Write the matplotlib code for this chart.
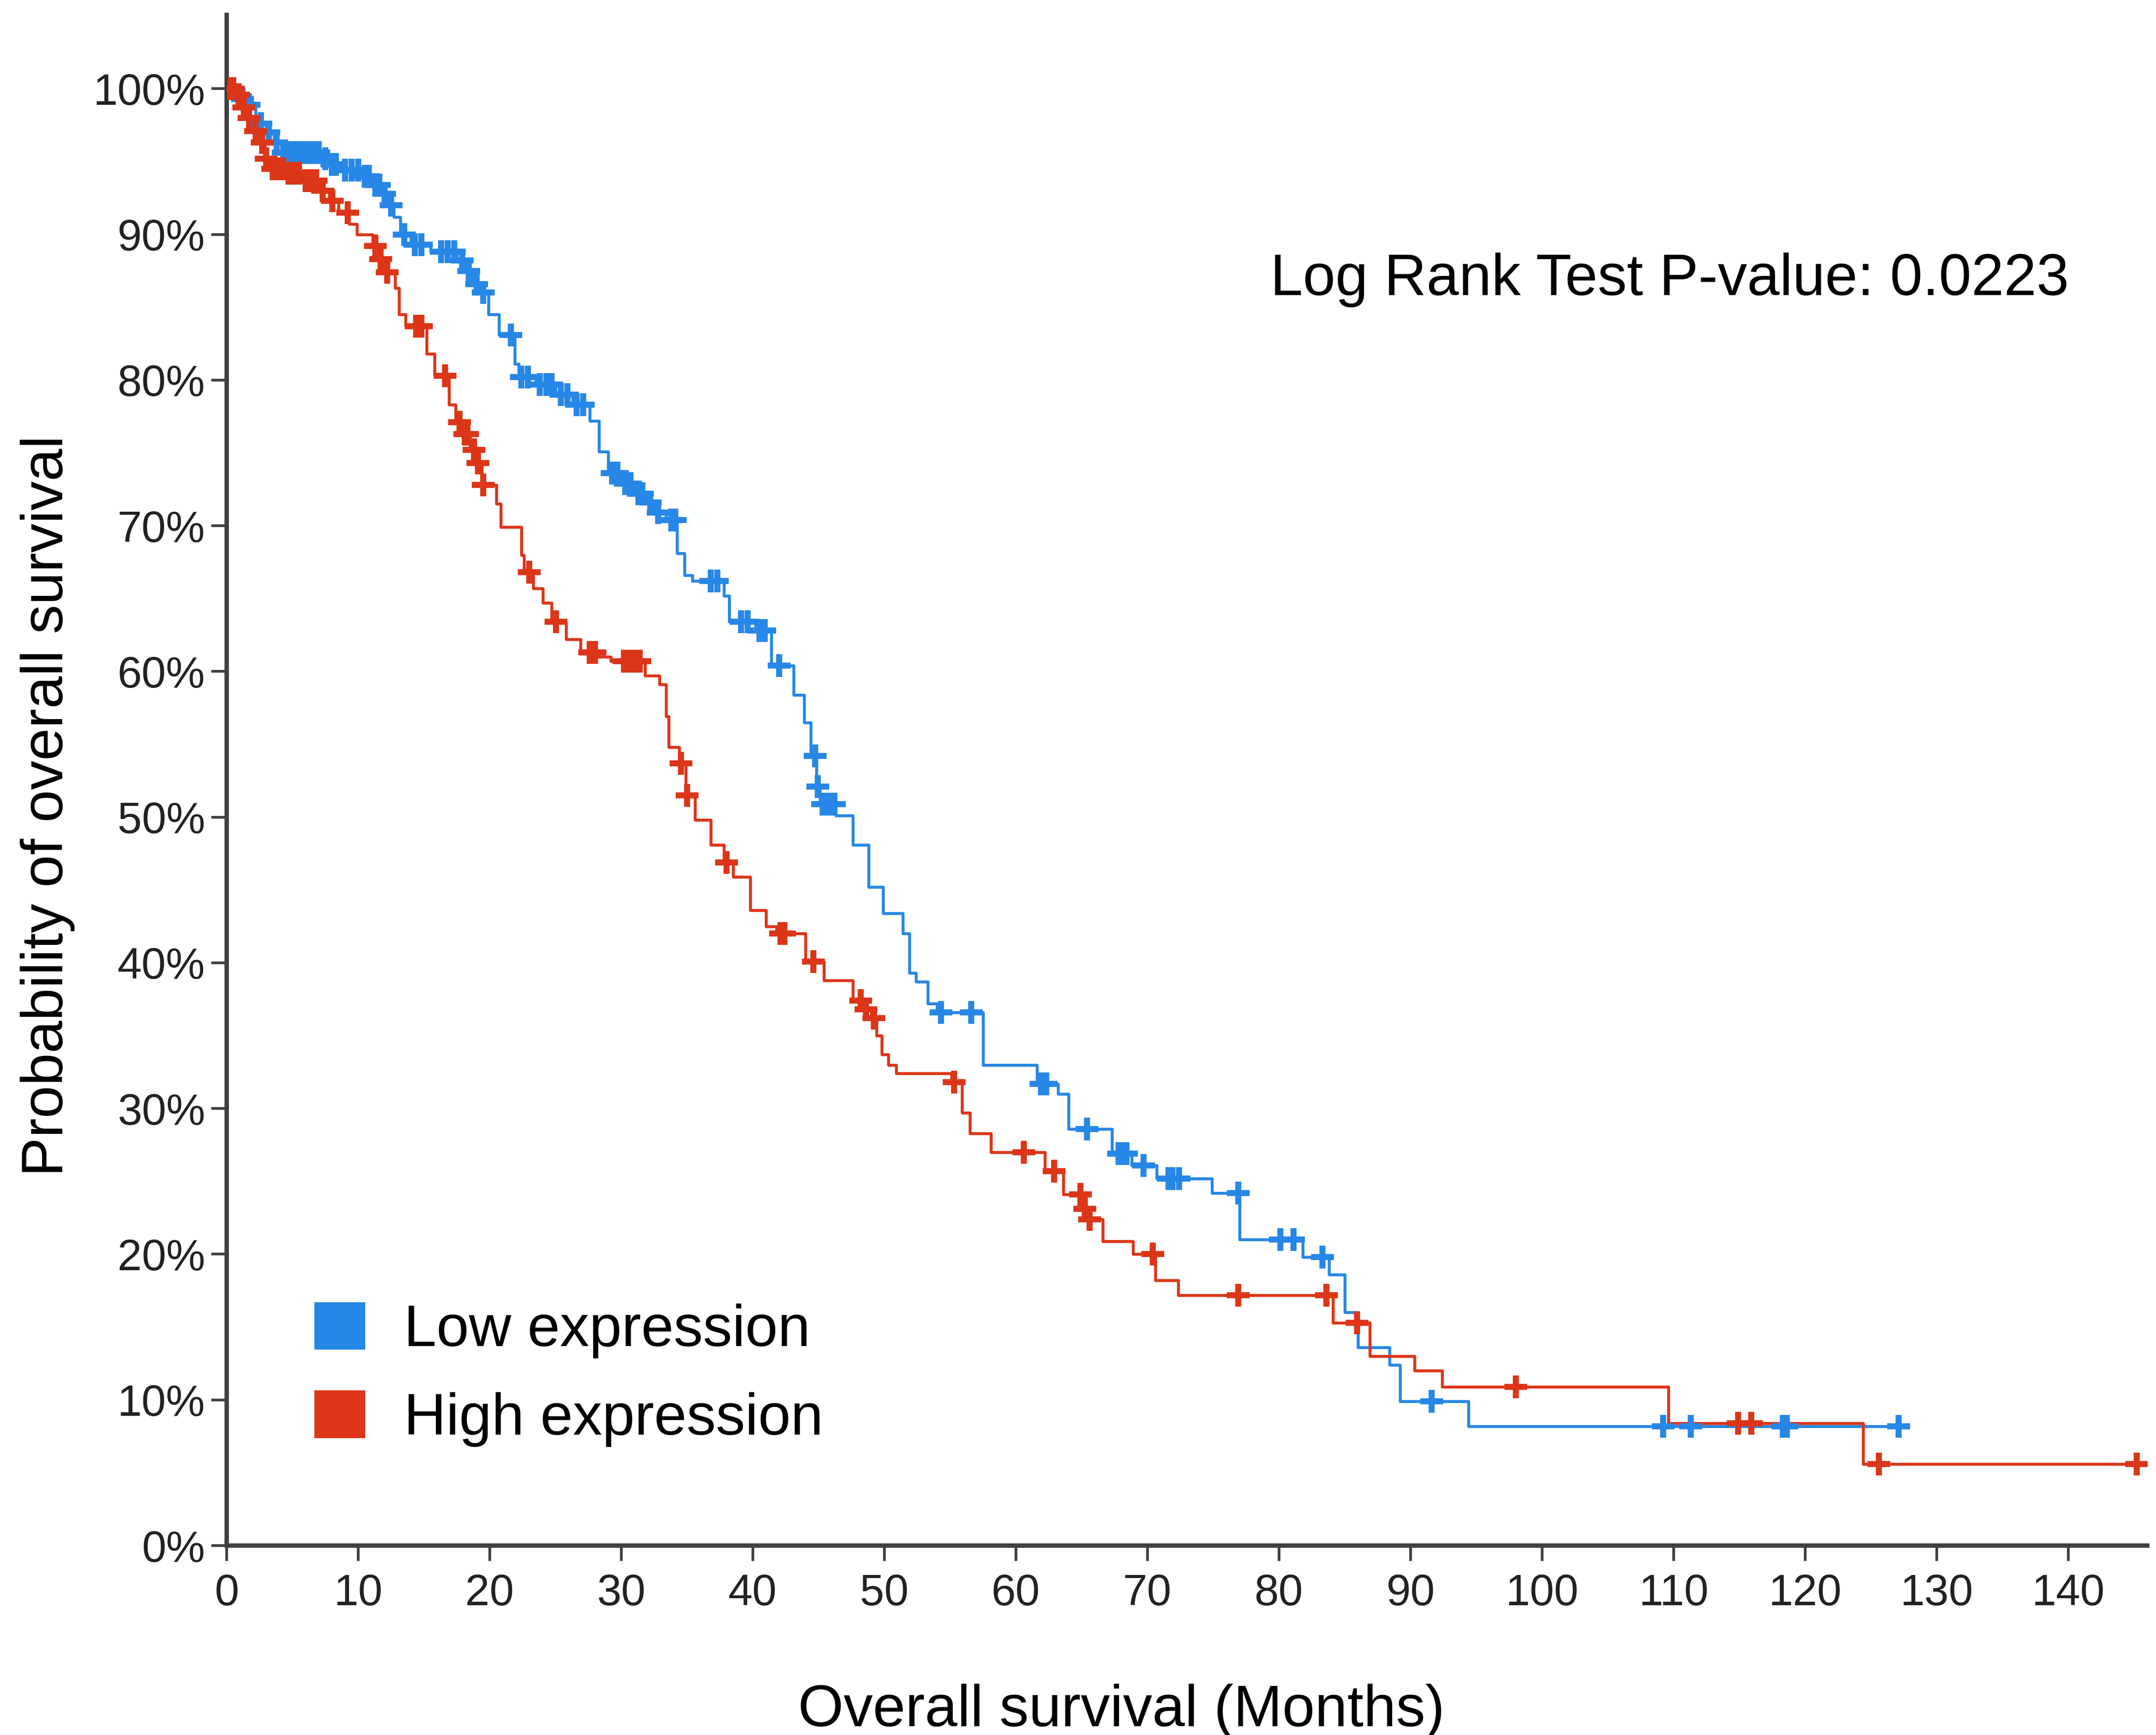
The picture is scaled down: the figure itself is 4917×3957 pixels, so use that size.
import numpy as np
import matplotlib
matplotlib.use("Agg")
import matplotlib.pyplot as plt
from matplotlib.patches import Patch

plt.rcParams['font.family'] = ['Liberation Sans', 'DejaVu Sans']

# Kaplan-Meier steps (months, % surviving after the step)
low_t = [0, 0.8, 1.5, 2.2, 3.0, 3.6, 4.2, 7.2, 7.8, 8.6, 10.2, 11.0, 11.8, 12.3, 12.7,
         13.2, 14.0, 15.5, 17.5, 18.2, 18.7, 19.3, 19.9, 20.7, 21.9, 22.2, 23.5, 25.0,
         26.3, 27.6, 28.3, 29.0, 30.0, 31.0, 31.9, 32.5, 33.4, 34.25, 34.8, 35.4, 37.8,
         38.2, 40.2, 41.4, 43.1, 43.9, 44.4, 44.85, 45.1, 46.3, 47.6, 48.8, 49.9, 51.4,
         51.9, 52.4, 53.3, 54.0, 57.5, 61.6, 63.2, 64.0, 67.3, 68.8, 70.7, 74.9, 77.0,
         81.8, 83.8, 85.0, 86.0, 88.4, 89.2, 94.4]
low_s = [100, 99.3, 98.9, 97.6, 97.0, 96.3, 95.6, 95.2, 94.8, 94.4, 94.0, 93.4, 92.8, 92.0,
         91.2, 90.0, 89.3, 88.8, 88.2, 87.5, 86.6, 86.0, 84.5, 83.1, 81.1, 80.2, 79.7, 79.0,
         78.3, 77.2, 75.1, 73.6, 72.9, 72.2, 71.6, 70.9, 70.4, 68.1, 66.6, 66.2, 65.2,
         63.4, 62.8, 60.4, 58.4, 56.5, 54.2, 52.1, 50.9, 50.1, 48.1, 45.2, 43.4, 42.0,
         39.3, 38.7, 37.2, 36.6, 33.0, 31.7, 31.0, 28.6, 26.9, 26.1, 25.2, 24.2, 21.0,
         19.8, 18.6, 16.0, 13.6, 12.4, 9.9, 8.2]
low_cens = [1.2, 1.7, 2.6, 3.2, 3.8, 4.3, 4.7, 5.0, 5.3, 5.6, 5.9, 6.2, 6.6, 7.0, 7.5, 8.0,
            8.3, 9.0, 9.5, 10.0, 10.5, 10.8, 11.3, 11.6, 12.0, 12.5, 13.5, 14.3, 14.8, 16.3,
            16.8, 17.3, 17.9, 18.4, 19.0, 19.5, 21.6, 22.4, 22.9, 23.8, 24.3, 24.7, 25.4,
            25.9, 26.6, 27.1, 29.3, 29.7, 30.3, 30.7, 31.3, 31.6, 32.2, 32.8, 33.8, 34.1,
            36.8, 37.3, 39.1, 39.6, 40.5, 40.9, 42.0, 44.75, 44.95, 45.3, 45.6, 45.9, 46.2,
            54.3, 56.6, 61.9, 62.3, 65.4, 67.8, 68.1, 68.4, 69.7, 71.6, 71.9, 72.4, 76.9,
            80.1, 81.1, 83.3, 91.6, 109.2, 111.3, 118.3, 118.6, 127.1]

high_t = [0, 0.6, 1.0, 1.5, 2.0, 2.5, 2.9, 3.3, 4.5, 5.8, 7.0, 7.8, 8.5, 9.3, 9.9, 11.1,
          11.5, 12.0, 12.8, 13.1, 13.6, 15.2, 15.8, 16.9, 17.4, 17.9, 18.5, 19.0, 19.4,
          20.5, 20.85, 22.4, 22.6, 23.3, 24.05, 24.7, 25.8, 26.9, 28.2, 29.2, 31.8, 32.9,
          33.4, 33.6, 34.4, 34.9, 35.6, 36.8, 37.8, 38.5, 39.8, 41.0, 41.8, 44.0, 45.4,
          47.6, 48.4, 49.0, 49.4, 49.8, 50.3, 50.9, 55.1, 55.9, 56.5, 58.1, 62.2, 63.6,
          65.1, 65.4, 66.6, 68.9, 70.6, 72.35, 84.1, 86.9, 90.3, 92.4, 109.6, 124.4]
high_s = [100, 99.6, 98.7, 98.0, 97.1, 96.3, 95.2, 94.5, 94.2, 93.7, 93.0, 92.3, 91.5, 90.7,
          90.0, 89.2, 88.3, 87.4, 86.3, 84.5, 83.7, 81.8, 80.3, 78.3, 77.1, 76.3, 75.2, 74.3,
          72.8, 71.5, 69.9, 68.0, 66.8, 65.7, 64.7, 63.4, 62.2, 61.3, 61.0, 60.7, 59.7,
          59.1, 56.9, 54.8, 53.7, 51.5, 49.8, 48.1, 46.9, 45.9, 43.6, 42.5, 42.0, 40.1,
          38.8, 37.4, 36.8, 36.2, 35.0, 33.7, 33.0, 32.4, 31.8, 29.7, 28.3, 27.0, 25.7,
          24.1, 23.1, 22.4, 20.9, 20.0, 18.2, 17.2, 15.3, 13.0, 12.0, 10.9, 8.4, 5.6]
high_cens = [0.3, 0.5, 0.9, 1.3, 1.7, 2.2, 2.7, 3.0, 3.5, 3.9, 4.3, 4.7, 5.1, 5.5, 6.0, 6.4,
             6.8, 7.3, 8.05, 9.2, 11.3, 11.7, 12.2, 14.4, 14.8, 16.6, 17.7, 18.1, 18.3, 18.8,
             19.1, 19.5, 23.0, 25.05, 27.6, 28.0, 30.2, 30.6, 31.0, 31.4, 34.55, 35.0, 38.0,
             42.1, 42.4, 44.6, 48.2, 48.6, 49.2, 55.3, 60.6, 62.9, 64.9, 65.25, 65.6, 70.4,
             76.9, 83.6, 85.95, 98.0, 114.9, 115.9, 125.6, 145.2]

labels = ["Low expression", "High expression"]
colors = ["#2687E6", "#DC3518"]
y_ticks = list(range(0, 101, 10))
x_ticks = list(range(0, 141, 10))
p_text = "Log Rank Test P-value: 0.0223"


def on_curve(t, s, pts):
    t = np.asarray(t)
    s = np.asarray(s)
    idx = np.searchsorted(t, pts, side="right") - 1
    return s[idx]


fig = plt.figure(figsize=(4917 / 300, 3957 / 300), dpi=300)
ax = fig.add_axes([0.10506, 0.10917, 0.8908, 0.8822])

series = [(low_t, low_s, low_cens), (high_t, high_s, high_cens)]
for (t, s, c), col in zip(series, colors):
    tt = list(t) + [max(c)]
    ss = list(s) + [s[-1]]
    ax.step(tt, ss, where="post", color=col, lw=1.6, zorder=2)
for (t, s, c), col in zip(series, colors):
    ax.plot(c, on_curve(t, s, c), ls="none", marker="+", ms=12.5, mew=3.3,
            color=col, zorder=3)

ax.set_xlim(0, 146)
ax.set_ylim(0, 105.06)
ax.set_xticks(x_ticks)
ax.set_yticks(y_ticks)
ax.set_yticklabels([f"{v}%" for v in y_ticks])

for side in ["top", "right"]:
    ax.spines[side].set_visible(False)
for side in ["left", "bottom"]:
    ax.spines[side].set_color("#404040")
    ax.spines[side].set_linewidth(2.4)
ax.tick_params(axis="both", length=8.5, width=1.5, color="#404040",
               labelsize=24, labelcolor="#222222")
ax.tick_params(axis="y", pad=3.2)
ax.tick_params(axis="x", pad=6.5)

ax.set_xlabel("Overall survival (Months)", fontsize=32)
ax.set_ylabel("Probability of overall survival", fontsize=32)
ax.xaxis.set_label_coords(0.466, -0.0902)
ax.yaxis.set_label_coords(-0.0788, 0.4833)

fig.text(0.5892, 0.8299, p_text, fontsize=32, ha="left", va="baseline")

handles = [Patch(facecolor=c, edgecolor="none") for c in colors]
ax.legend(handles, labels, loc="upper left", bbox_to_anchor=(717 / 4917, 1 - 2970 / 3957),
          bbox_transform=fig.transFigure, frameon=False, fontsize=32,
          handlelength=0.87, handleheight=0.87, handletextpad=0.66,
          labelspacing=0.55, borderpad=0, borderaxespad=0)

fig.savefig("out.png", dpi=300)
